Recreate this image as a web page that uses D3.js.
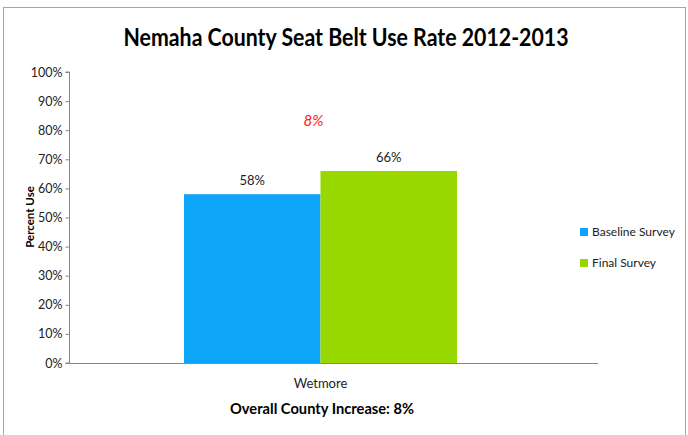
<!DOCTYPE html>
<html><head><meta charset="utf-8">
<script src="https://cdn.jsdelivr.net/npm/d3@7"></script>
<style>body{margin:0;background:#fff}svg{display:block;font-family:Lato,"Open Sans",sans-serif}</style>
</head><body>
<svg id="c" width="688" height="435"></svg>
<script>
const categories = ["Wetmore"];
const seriesNames = ["Baseline Survey", "Final Survey"];
const baseline = [0.58];
const finalSurvey = [0.66];
const increaseLabel = ["8%"];
const yTicks = [0,0.1,0.2,0.3,0.4,0.5,0.6,0.7,0.8,0.9,1.0];
const colors = ["#0da5f8", "#99d700"];

(function(){
const svg = d3.select("#c");
svg.append("rect").attr("x",3.5).attr("y",7.5).attr("width",682).attr("height",440)
  .attr("fill","#fff").attr("stroke","#a6a6a6");

const pL=69, pR=572, pT=72, pB=363;
const y = d3.scaleLinear().domain([0,1]).range([pB, pT]);
const x0 = d3.scaleBand().domain(categories).range([pL,pR]).paddingInner(0).paddingOuter(0.421);
const x1 = d3.scaleBand().domain(seriesNames).range([0, x0.bandwidth()]);

const yAxis = d3.axisLeft(y).tickValues(yTicks).tickFormat(d3.format(".0%")).tickSize(4).tickPadding(3);
const gy = svg.append("g").attr("transform",`translate(${pL+0.5},0)`).call(yAxis);
gy.attr("font-size",null).attr("font-family",null);
gy.select(".domain").attr("stroke","#868686").attr("d",`M-4,${pT}H0V${pB}H-4`);
gy.selectAll(".tick line").attr("stroke","#868686");
gy.selectAll(".tick text").attr("fill","#222").style("font-size","12.5px");

svg.append("line").attr("x1",pL).attr("x2",598).attr("y1",pB+0.5).attr("y2",pB+0.5).attr("stroke","#868686");

const data = categories.map((c,i)=>({cat:c, vals:[baseline[i], finalSurvey[i]]}));
const g = svg.append("g");
data.forEach(d=>{
  d.vals.forEach((v,j)=>{
    const bx = x0(d.cat)+x1(seriesNames[j]);
    g.append("rect").attr("x",bx).attr("y",y(v)).attr("width",x1.bandwidth()).attr("height",y(0)-y(v)).attr("fill",colors[j]);
    g.append("text").attr("x",bx+x1.bandwidth()/2).attr("y",y(v)-9).attr("text-anchor","middle")
      .attr("fill","#222").style("font-size","13px").text(d3.format(".0%")(v));
  });
  svg.append("text").attr("x",x0(d.cat)+x0.bandwidth()/2).attr("y",388).attr("text-anchor","middle")
    .attr("fill","#222").style("font-size","13px").text(d.cat);
});

svg.append("text").attr("x",x0(categories[0])+x0.bandwidth()/2-7).attr("y",126).attr("text-anchor","middle")
  .attr("fill","#ff2020").style("font-size","15px").style("font-style","italic").text(increaseLabel[0]);

svg.append("text").attr("x",346).attr("y",46).attr("text-anchor","middle").style("font-size","25px")
  .style("font-weight","bold").attr("fill","#000").attr("textLength",445).attr("lengthAdjust","spacingAndGlyphs")
  .text("Nemaha County Seat Belt  Use Rate 2012-2013");

svg.append("text").attr("transform","translate(34,217) rotate(-90)").attr("text-anchor","middle")
  .style("font-size","11.5px").style("font-weight","bold").attr("fill","#000").text("Percent Use");

svg.append("text").attr("x",322).attr("y",414).attr("text-anchor","middle").style("font-size","15px")
  .style("font-weight","bold").attr("fill","#000").attr("textLength",184).attr("lengthAdjust","spacingAndGlyphs")
  .text("Overall County Increase: 8%");

const lg = svg.append("g");
seriesNames.forEach((s,i)=>{
  const yy = 228 + i*31;
  lg.append("rect").attr("x",580).attr("y",yy).attr("width",8).attr("height",8).attr("fill",colors[i]);
  lg.append("text").attr("x",592).attr("y",yy+8).style("font-size","12px").attr("fill","#222").text(s);
});
})();
</script>
</body></html>
